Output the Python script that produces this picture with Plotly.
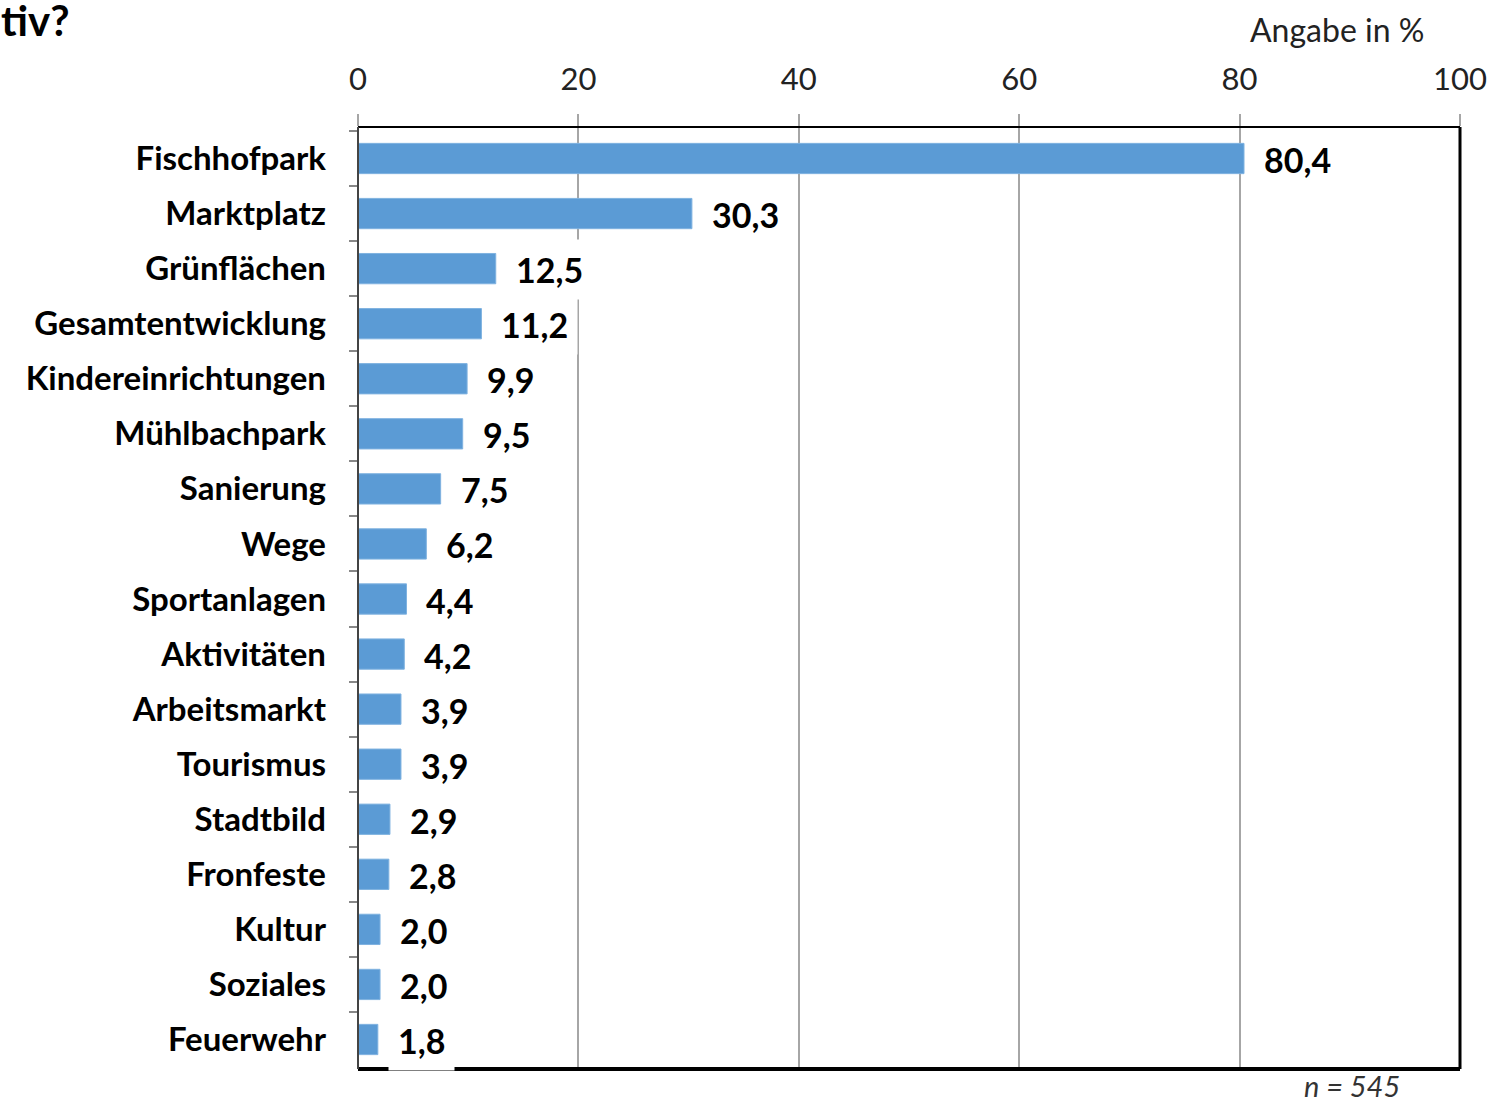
import plotly.graph_objects as go

categories = ["Fischhofpark", "Marktplatz", "Grünflächen", "Gesamtentwicklung",
              "Kindereinrichtungen", "Mühlbachpark", "Sanierung", "Wege",
              "Sportanlagen", "Aktivitäten", "Arbeitsmarkt", "Tourismus",
              "Stadtbild", "Fronfeste", "Kultur", "Soziales", "Feuerwehr"]
values = [80.4, 30.3, 12.5, 11.2, 9.9, 9.5, 7.5, 6.2, 4.4, 4.2, 3.9, 3.9,
          2.9, 2.8, 2.0, 2.0, 1.8]
x_ticks = [0, 20, 40, 60, 80, 100]

FONT = "Lato"
BLUE = "#5b9bd5"

W, H = 1492, 1104
L, R, T, B = 358, 32, 127, 35
pw, ph = W - L - R, H - T - B


def px(xp):
    return (xp - L) / pw


def py(yp):
    return (H - B - yp) / ph


fig = go.Figure()
fig.add_trace(go.Bar(
    x=values, y=categories, orientation="h",
    marker=dict(color=BLUE, line=dict(color="#7fb2e0", width=1)),
    width=0.55, hoverinfo="skip",
))

for c, v in zip(categories, values):
    fig.add_annotation(
        x=v, y=c, xref="x", yref="y", xanchor="left", yanchor="middle",
        xshift=10, yshift=-1, text="<b>" + f"{v:.1f}".replace(".", ",") + "</b>",
        showarrow=False, bgcolor="white", borderpad=9,
        font=dict(family=FONT, size=34, color="black"),
    )

fig.add_annotation(x=px(0), y=py(20), xref="paper", yref="paper",
                   xanchor="left", yanchor="middle", text="<b>tiv?</b>",
                   showarrow=False, font=dict(family=FONT, size=42, color="black"),
                   borderpad=0)
fig.add_annotation(x=px(1426), y=py(29), xref="paper", yref="paper",
                   xanchor="right", yanchor="middle", text="Angabe in %",
                   showarrow=False, font=dict(family=FONT, size=32, color="#222222"))
fig.add_annotation(x=px(1402), y=py(1085), xref="paper", yref="paper",
                   xanchor="right", yanchor="middle", text="<i>n = 545</i>",
                   showarrow=False, font=dict(family=FONT, size=29, color="#333333"))

# Borders
fig.add_shape(type="line", xref="paper", yref="paper", x0=0, x1=1, y0=1, y1=1,
              line=dict(color="black", width=2), layer="above")
fig.add_shape(type="line", xref="paper", yref="paper", x0=0, x1=1, y0=0, y1=0,
              line=dict(color="black", width=4), layer="above")
fig.add_shape(type="line", xref="paper", yref="paper", x0=1, x1=1, y0=0, y1=1,
              line=dict(color="black", width=3), layer="above")
fig.add_shape(type="line", xref="paper", yref="paper", x0=0, x1=0, y0=0, y1=1,
              line=dict(color="#444444", width=2), layer="above")

fig.update_layout(
    width=W, height=H,
    margin=dict(l=L, r=R, t=T, b=B, pad=0, autoexpand=False),
    plot_bgcolor="white", paper_bgcolor="white",
    showlegend=False,
    font=dict(family=FONT),
    xaxis=dict(
        side="top", range=[0, 100], tickvals=x_ticks,
        ticktext=[str(t) for t in x_ticks], automargin=False,
        showgrid=True, gridcolor="#a6a6a6", gridwidth=1.5,
        ticks="outside", ticklen=12, tickcolor="#a6a6a6", tickwidth=1.5,
        tickfont=dict(family=FONT, size=31, color="#222222"),
        ticklabelstandoff=12, zeroline=False, showline=False, fixedrange=True,
    ),
    yaxis=dict(
        autorange="reversed", type="category", automargin=False,
        ticks="outside", ticklen=8, tickcolor="#888888", tickwidth=1.5,
        tickson="boundaries", showgrid=False, zeroline=False,
        tickfont=dict(family=FONT, size=33, color="black"),
        ticklabelstandoff=31, showline=False,
        tickprefix="<b>", ticksuffix="</b>",
    ),
)

fig.write_html("out.html", config={"displayModeBar": False},
               post_script="document.body.style.margin='0px';")
